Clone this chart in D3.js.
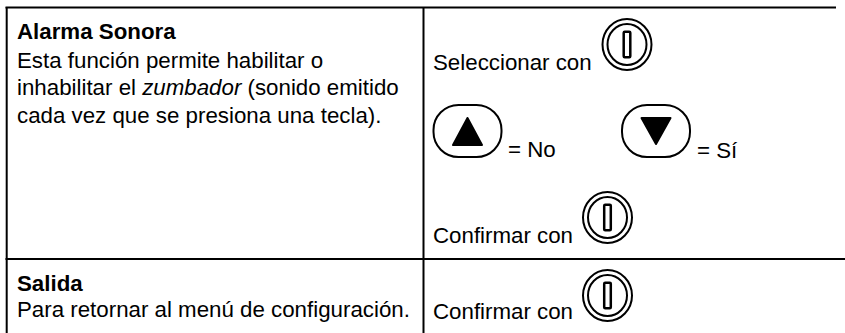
<!DOCTYPE html>
<html>
<head>
<meta charset="utf-8">
<script src="https://cdn.jsdelivr.net/npm/d3@7"></script>
<style>
  html, body { margin: 0; padding: 0; background: #fff; overflow: hidden; }
  text { font-family: "Liberation Sans", Arial, sans-serif; fill: #000; }
</style>
</head>
<body>
<div id="my_dataviz"></div>
<script>
// table content
var left_titles = ["Alarma Sonora", "Salida"];
var alarm_lines = [
  ["Esta función permite habilitar o"],
  ["inhabilitar el ", "zumbador", " (sonido emitido"],
  ["cada vez que se presiona una tecla)."]
];
var exit_lines = ["Para retornar al menú de configuración."];
var right_labels = ["Seleccionar con", "Confirmar con", "Confirmar con"];
var arrow_labels = ["= No", "= Sí"];

var width = 845, height = 333;
var font_size = 22.3;

var svg = d3.select("#my_dataviz")
  .append("svg")
    .attr("width", width)
    .attr("height", height)
    .style("display", "block");

// grid lines: the rules run off to the right, there is no right border
var h_rules = [{y: 7.5, end: 836}, {y: 259, end: 845}];
var v_rules = [6.7, 423.5];

svg.selectAll("line.h")
  .data(h_rules)
  .enter().append("line")
    .attr("x1", 5.5)
    .attr("x2", function(d) { return d.end; })
    .attr("y1", function(d) { return d.y; })
    .attr("y2", function(d) { return d.y; })
    .attr("stroke", "#000")
    .attr("stroke-width", 2);

svg.selectAll("line.v")
  .data(v_rules)
  .enter().append("line")
    .attr("x1", function(d) { return d; })
    .attr("x2", function(d) { return d; })
    .attr("y1", 7)
    .attr("y2", height)
    .attr("stroke", "#000")
    .attr("stroke-width", 2);

function add_text(px, py, txt, weight) {
  return svg.append("text")
    .attr("x", px)
    .attr("y", py)
    .attr("font-size", font_size)
    .attr("font-weight", weight || "normal")
    .text(txt);
}

// left column
add_text(17, 39, left_titles[0], "bold");
alarm_lines.forEach(function(parts, i) {
  var t = svg.append("text")
    .attr("x", 17)
    .attr("y", 67.5 + i * 27.5)
    .attr("font-size", font_size);
  parts.forEach(function(p) {
    t.append("tspan")
      .attr("font-style", p === "zumbador" ? "italic" : "normal")
      .text(p);
  });
});
add_text(17, 291, left_titles[1], "bold");
add_text(17, 317, exit_lines[0]);

// right column
add_text(433, 70, right_labels[0]);
add_text(433, 243, right_labels[1]);
add_text(433, 319, right_labels[2]);
add_text(508, 157, arrow_labels[0]);
add_text(697, 158, arrow_labels[1]);

// round knob symbol
function add_knob(cx, cy) {
  var g = svg.append("g").attr("transform", "translate(" + cx + "," + cy + ")");
  g.append("ellipse").attr("rx", 24.5).attr("ry", 25.5)
    .attr("fill", "none").attr("stroke", "#000").attr("stroke-width", 2);
  g.append("ellipse").attr("rx", 19.5).attr("ry", 20.5)
    .attr("fill", "none").attr("stroke", "#000").attr("stroke-width", 2);
  g.append("rect").attr("x", -3.3).attr("y", -12.7).attr("width", 6.6).attr("height", 25.4)
    .attr("rx", 1)
    .attr("fill", "none").attr("stroke", "#000").attr("stroke-width", 2.5);
}

// arrow key symbol
function add_key(cx, cy, up) {
  var g = svg.append("g").attr("transform", "translate(" + cx + "," + cy + ")");
  g.append("rect").attr("x", -34).attr("y", -26).attr("width", 68).attr("height", 52)
    .attr("rx", 25).attr("ry", 25)
    .attr("fill", "#fff").attr("stroke", "#000").attr("stroke-width", 2);
  var pts = up ? "0,-13 -14.5,14 14.5,14" : "0,13 -14.5,-13 14.5,-13";
  g.append("polygon").attr("points", pts)
    .attr("fill", "#000").attr("stroke", "#000")
    .attr("stroke-width", 2).attr("stroke-linejoin", "round");
}

add_knob(627, 44.5);
add_knob(607.5, 217.5);
add_knob(607.5, 295.5);
add_key(467.5, 131, true);
add_key(656, 131, false);
</script>
</body>
</html>
